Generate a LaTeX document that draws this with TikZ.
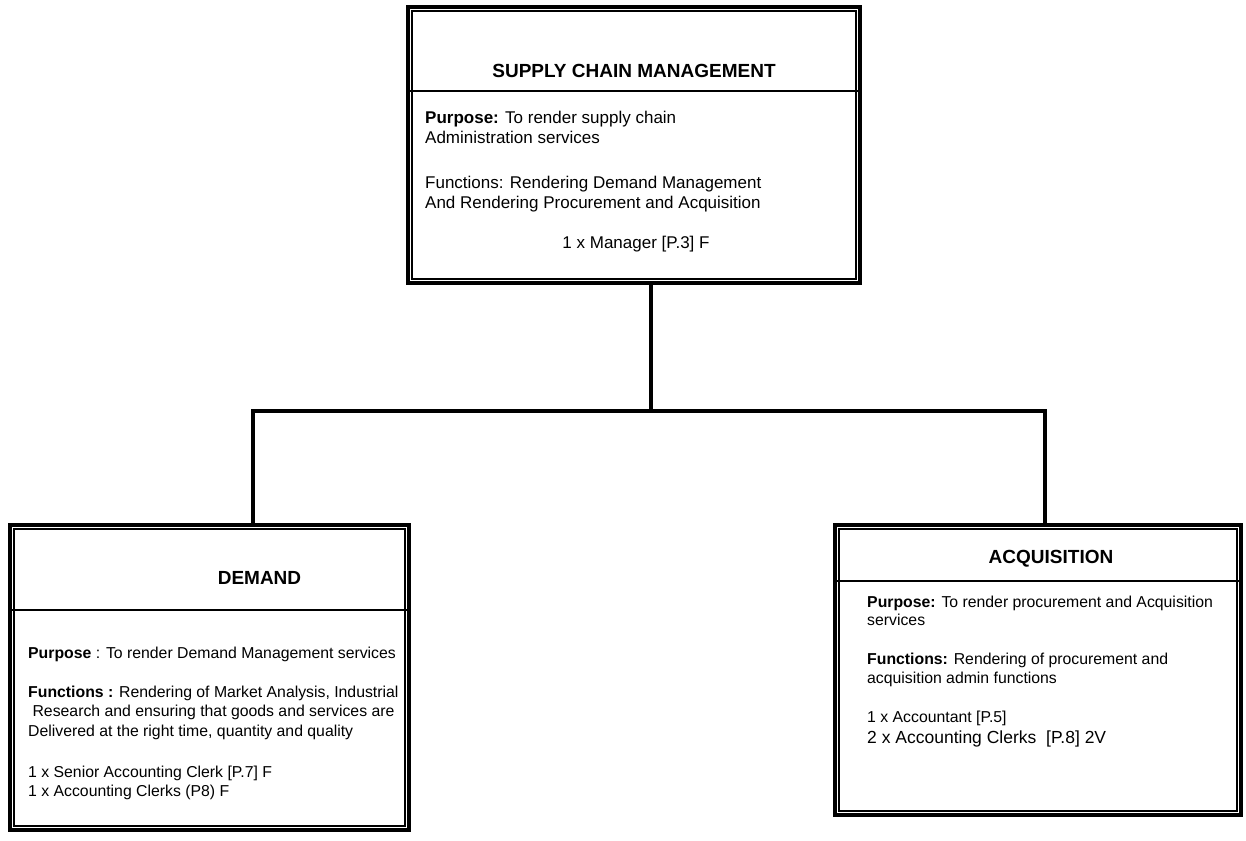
\documentclass[tikz,border=0pt]{standalone}
\usepackage{fontspec}
\setmainfont{Liberation Sans}
\begin{document}
\begin{tikzpicture}[x=1pt,y=-1pt,
  outerbox/.style={draw, line width=4pt, rectangle, inner sep=0pt},
  innerline/.style={line width=1.1pt},
  headline/.style={line width=2.2pt},
  link/.style={line width=3.6pt},
  title/.style={font=\fontsize{19}{22}\selectfont\bfseries, inner sep=0pt, anchor=base},
  bodyL/.style={font=\fontsize{17}{20}\selectfont, inner sep=0pt, anchor=base west},
  bodyS/.style={font=\fontsize{15.8}{19}\selectfont, inner sep=0pt, anchor=base west}
]
\useasboundingbox (0,0) rectangle (1246,840);

% ---- boxes (outer thick frame) ----
\node[outerbox, minimum width=452pt, minimum height=276pt] (scm) at (634,145) {};
\node[outerbox, minimum width=399pt, minimum height=305pt] (dem) at (209.5,677.5) {};
\node[outerbox, minimum width=406pt, minimum height=290pt] (acq) at (1038,670) {};

% ---- inner thin frames ----
\foreach \b in {scm,dem,acq}
  \draw[innerline] ([shift={(6,6)}]\b.north west) rectangle ([shift={(-6,-6)}]\b.south east);

% ---- header separators ----
\draw[headline] (scm.west |- 0,91) -- (scm.east |- 0,91);
\draw[headline] (dem.west |- 0,610) -- (dem.east |- 0,610);
\draw[headline] (acq.west |- 0,581) -- (acq.east |- 0,581);

% ---- connectors ----
\coordinate (bus) at (651,411);
\coordinate (busL) at (253,411);
\coordinate (busR) at (1045,411);
\draw[link] (scm.south -| bus) -- (bus);
\draw[link, line cap=rect] (busL) -- (busR);
\draw[link] (busL) -- (busL |- dem.north);
\draw[link] (busR) -- (busR |- acq.north);

% ---- SUPPLY CHAIN MANAGEMENT ----
\node[title] (scmT) at (634,78) {SUPPLY CHAIN MANAGEMENT};
\node[bodyL] (scm1) at (425,123) {\textbf{Purpose:} To render supply chain};
\node[bodyL] (scm2) at (425,143) {Administration services};
\node[bodyL] (scm3) at (425,188) {Functions: Rendering Demand Management};
\node[bodyL] (scm4) at (425,208) {And Rendering Procurement and Acquisition};
\node[bodyL, anchor=base] (scm5) at (636,248) {1 x Manager [P.3] F};

% ---- DEMAND ----
\node[title] (demT) at (259.5,584) {DEMAND};
\node[bodyS] (dem1) at (28,658) {\textbf{Purpose} : To render Demand Management services};
\node[bodyS] (dem2) at (28,697) {\textbf{Functions :} Rendering of Market Analysis, Industrial};
\node[bodyS] (dem3) at (28,716.5) {\ Research and ensuring that goods and services are};
\node[bodyS] (dem4) at (28,736) {Delivered at the right time, quantity and quality};
\node[bodyS] (dem5) at (28,777) {1 x Senior Accounting Clerk [P.7] F};
\node[bodyS] (dem6) at (28,796) {1 x Accounting Clerks (P8) F};

% ---- ACQUISITION ----
\node[title] (acqT) at (1051,563) {ACQUISITION};
\node[bodyS] (acq1) at (867,607) {\textbf{Purpose:} To render procurement and Acquisition};
\node[bodyS] (acq2) at (867,625) {services};
\node[bodyS] (acq3) at (867,664) {\textbf{Functions:} Rendering of procurement and};
\node[bodyS] (acq4) at (867,683) {acquisition admin functions};
\node[bodyS] (acq5) at (867,722) {1 x Accountant [P.5]};
\node[bodyL, font=\fontsize{17.5}{20}\selectfont] (acq6) at (867,743) {2 x Accounting Clerks\ \ [P.8] 2V};
\end{tikzpicture}
\end{document}
